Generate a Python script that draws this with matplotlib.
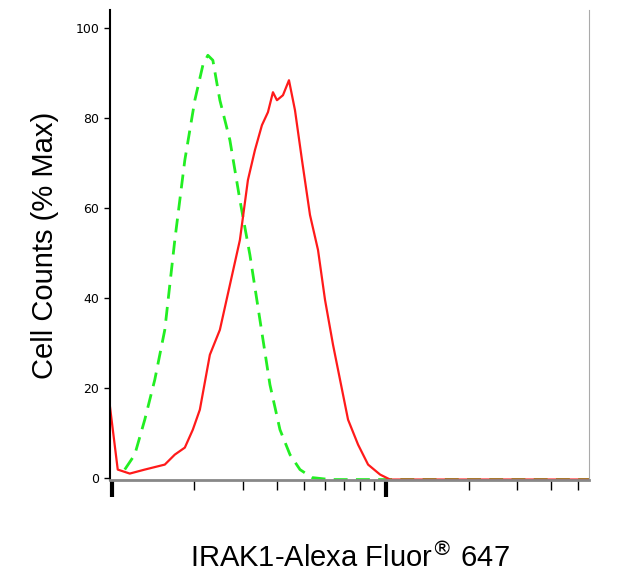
import matplotlib
matplotlib.use("Agg")
import matplotlib.pyplot as plt
import numpy as np

# pixel-read coordinates converted to data
red_px = [110,118,130,145,165,175,185,193,200,210,220,230,240,248,255,262,268,273,277,283,289,295,302,310,318,325,333,340,348,358,368,380,390,590]
red_py = [405,470,474,470,465,455,448,430,410,355,330,285,240,180,150,125,112,92,100,95,80,110,160,215,250,300,345,380,420,445,465,475,480,480]
green_px = [125,135,145,155,165,175,185,195,203,208,213,220,230,240,250,260,270,280,290,300,312,330,590]
green_py = [470,455,420,380,330,240,160,100,65,55,60,100,140,200,255,320,385,430,455,470,478,480,480]

red_x = [10**((p-112)/274) for p in red_px]
red_y = [(478-p)/4.5 for p in red_py]
green_x = [10**((p-112)/274) for p in green_px]
green_y = [(478-p)/4.5 for p in green_py]

fig = plt.figure(figsize=(6.27,5.76), dpi=100)
ax = fig.add_axes([0.175,0.167,0.765,0.815])
ax.plot(green_x, green_y, color="#22ee22", lw=2, ls=(0,(5,3)))
ax.plot(red_x, red_y, color="#ff1a1a", lw=1.6)
ax.set_xscale("log")
ax.set_xlim(10**(-2/274), 10**((589-112)/274))
ax.set_ylim(-0.5,104)
ax.set_yticks([0,20,40,60,80,100])
ax.tick_params(axis="y", labelsize=9, length=4, width=1)
ax.set_xticks([1,10])
ax.set_xticklabels([])
ax.xaxis.set_minor_locator(matplotlib.ticker.LogLocator(base=10, subs=np.arange(2,10)))
ax.xaxis.set_minor_formatter(matplotlib.ticker.NullFormatter())
ax.tick_params(axis="x", which="major", length=12, width=3, direction="out")
ax.tick_params(axis="x", which="minor", length=7, width=1)
ax.spines["top"].set_visible(False)
ax.spines["right"].set_color("#aaaaaa")
ax.spines["bottom"].set_color("#888888")
ax.spines["bottom"].set_linewidth(2)
ax.spines["left"].set_linewidth(1.5)
ax.set_ylabel("Cell Counts (% Max)", fontsize=21, family="Liberation Sans", labelpad=12)
ax.set_xlabel("IRAK1-Alexa Fluor$^{®}$ 647", fontsize=21, family="Liberation Sans", labelpad=30)
fig.savefig("out.png", dpi=100)
